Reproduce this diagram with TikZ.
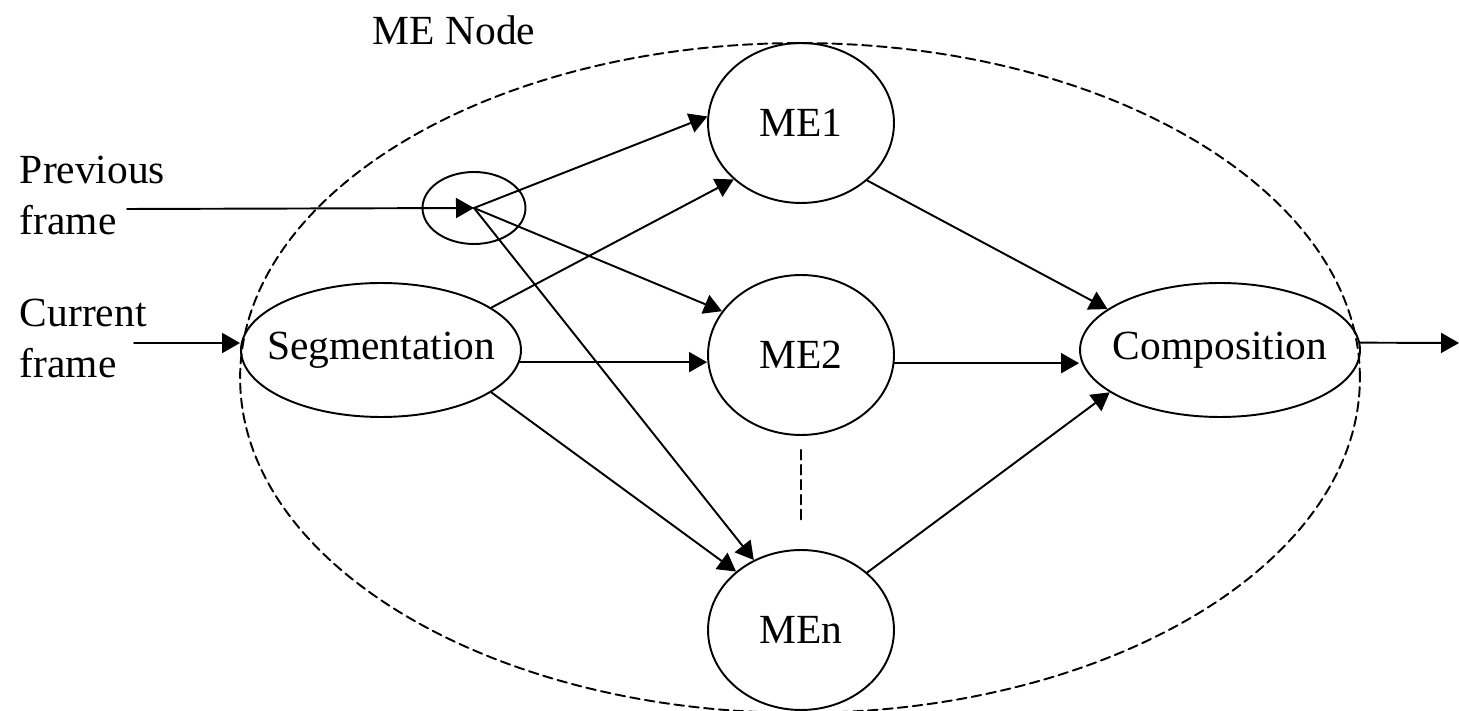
\documentclass[tikz,border=0pt]{standalone}
\usepackage{fontspec}
\setmainfont{Liberation Serif}
\usetikzlibrary{arrows.meta,shapes.geometric}
\tikzset{
  blob/.style={draw,ellipse,inner sep=0pt},
  txt/.style={inner sep=0pt,align=left},
}
\begin{document}
\begin{tikzpicture}[line cap=round,line join=round,>={Triangle[length=0.36cm,width=0.4cm]},x=0.02cm,y=0.02cm,line width=1.1pt,every node/.style={font=\fontsize{23.6}{29.5}\selectfont}]
\useasboundingbox (0,0) rectangle (1459,710);

\node[blob,dash pattern=on 5.5pt off 3pt,minimum width=22.4cm,minimum height=13.4cm] (menode) at (800,332) {};
\node[txt,anchor=base west] (title) at (372,665) {ME Node};

\node[blob,minimum width=3.72cm,minimum height=3.2cm] (me1) at (801,587) {\makebox[0pt]{ME1}};
\node[blob,minimum width=3.72cm,minimum height=3.2cm] (me2) at (801,355) {\makebox[0pt]{ME2}};
\node[blob,minimum width=3.72cm,minimum height=3.2cm] (men) at (801,80) {\makebox[0pt]{MEn}};
\node[blob,minimum width=5.6cm,minimum height=2.68cm] (seg) at (381,360) {\makebox[0pt]{Segmentation}};
\node[blob,minimum width=5.6cm,minimum height=2.68cm] (comp) at (1220,360) {\makebox[0pt]{Composition}};
\node[blob,minimum width=2.06cm,minimum height=1.44cm] (split) at (474,502) {};

% base anchor sits on the last line
\node[txt,anchor=base west] (prev) at (19,475) {Previous\\frame};
\node[txt,anchor=base west] (curr) at (19,332) {Current\\frame};
\coordinate (previn) at (127,501);
\coordinate (currin) at (134,367);
\coordinate (out) at (1459,367);

\draw[->] (previn) -- (split.center);
\draw[->] (currin) -- (currin -| seg.west);
\draw[->] (split.center) -- (me1.176);
\draw[->] (split.center) -- (me2.151);
\draw[->] (split.center) -- (men.124);
\draw[->] (seg.21) -- (me1.220);
\draw[->] (seg.-5) -- (seg.-5 -| me2.west);
\draw[->] (seg.-21) -- (men.138);
\draw[->] (me1.-41) -- (comp.160);
\draw[->] (me2.-5) -- (me2.-5 -| comp.west);
\draw[->] (men.41) -- (comp.201);
\draw[->] (comp.3) -- (out);
\draw[dash pattern=on 5.5pt off 3pt] ([yshift=-0.28cm]me2.south) -- ([yshift=0.54cm]men.north);
\end{tikzpicture}
\end{document}
